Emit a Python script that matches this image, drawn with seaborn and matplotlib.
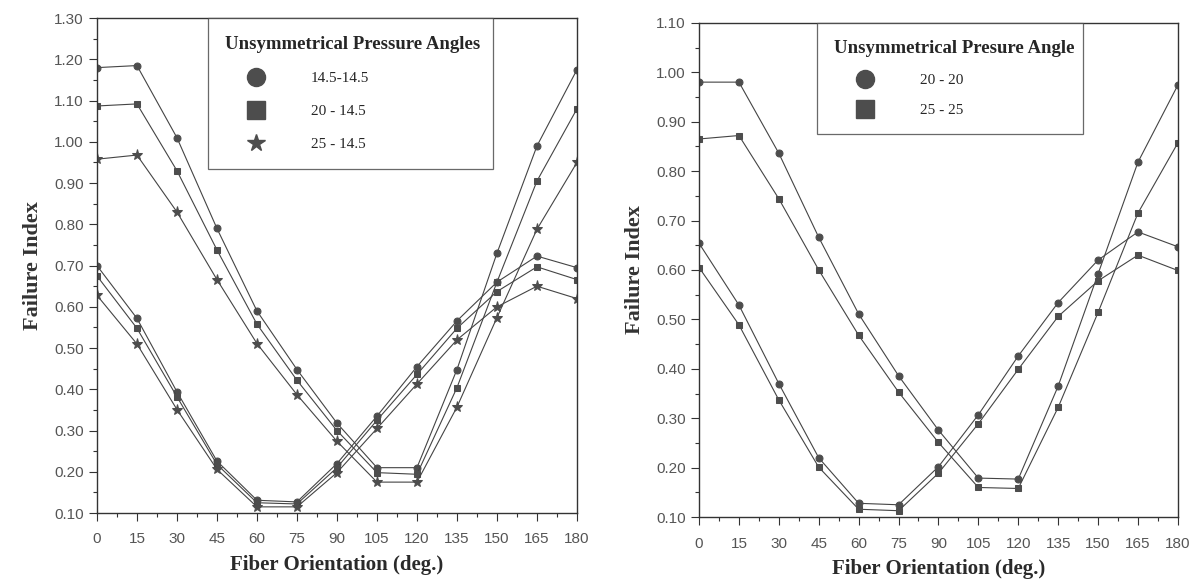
import numpy as np
import pandas as pd
import matplotlib
matplotlib.use("Agg")
import matplotlib.pyplot as plt
from matplotlib.lines import Line2D
from matplotlib.ticker import MultipleLocator, FormatStrFormatter
import seaborn as sns

# fiber orientation (deg.)
angles = [0, 15, 30, 45, 60, 75, 90, 105, 120, 135, 150, 165, 180]

# left panel - unsymmetrical pressure angles, two curves per gear pair
fi_145_145_a = [1.18, 1.185, 1.01, 0.79, 0.59, 0.448, 0.318, 0.21, 0.21, 0.448, 0.73, 0.99, 1.175]
fi_145_145_b = [0.70, 0.572, 0.394, 0.226, 0.131, 0.127, 0.22, 0.335, 0.455, 0.566, 0.66, 0.723, 0.695]
fi_20_145_a = [1.087, 1.092, 0.93, 0.738, 0.558, 0.422, 0.30, 0.198, 0.194, 0.404, 0.66, 0.905, 1.08]
fi_20_145_b = [0.675, 0.548, 0.382, 0.218, 0.125, 0.122, 0.21, 0.325, 0.436, 0.548, 0.637, 0.697, 0.666]
fi_25_145_a = [0.958, 0.968, 0.83, 0.666, 0.511, 0.387, 0.274, 0.175, 0.175, 0.357, 0.574, 0.788, 0.95]
fi_25_145_b = [0.628, 0.51, 0.351, 0.206, 0.115, 0.115, 0.198, 0.305, 0.413, 0.52, 0.60, 0.65, 0.62]

# right panel - symmetrical pairs
fi_20_20_a = [0.98, 0.98, 0.836, 0.666, 0.511, 0.386, 0.276, 0.179, 0.177, 0.365, 0.592, 0.818, 0.974]
fi_20_20_b = [0.654, 0.529, 0.37, 0.22, 0.128, 0.125, 0.202, 0.307, 0.426, 0.534, 0.62, 0.677, 0.647]
fi_25_25_a = [0.865, 0.872, 0.744, 0.60, 0.468, 0.353, 0.251, 0.16, 0.158, 0.322, 0.514, 0.715, 0.857]
fi_25_25_b = [0.605, 0.489, 0.337, 0.201, 0.116, 0.113, 0.189, 0.289, 0.399, 0.506, 0.578, 0.63, 0.599]

left_labels = ["14.5-14.5", "20 - 14.5", "25 - 14.5"]
right_labels = ["20 - 20", "25 - 25"]

sns.set_theme(style="ticks")
plt.rcParams["font.family"] = ["Liberation Sans", "DejaVu Sans"]

LINE_C = "#444444"
MARK_C = "#4d4d4d"
markers = {"o": 5, "s": 5, "*": 8}


def to_frame(series):
    """Long-form table: one row per angle, per series, per branch."""
    rows = []
    for label, branch, vals in series:
        for a, v in zip(angles, vals):
            rows.append({"angle": a, "fi": v, "series": label, "branch": branch})
    return pd.DataFrame(rows)


def draw_panel(ax, df, labels, mkrs, ymax, legend_title, leg_box, spacing):
    for label, m in zip(labels, mkrs):
        for branch in ["a", "b"]:
            sub = df[(df.series == label) & (df.branch == branch)]
            sns.lineplot(data=sub, x="angle", y="fi", ax=ax, color=LINE_C,
                         linewidth=0.8, marker=m, markersize=markers[m],
                         markerfacecolor=MARK_C, markeredgecolor=MARK_C,
                         legend=False)

    ax.set_xlim(0, 180)
    ax.set_ylim(0.10, ymax)
    ax.xaxis.set_major_locator(MultipleLocator(15))
    ax.xaxis.set_minor_locator(MultipleLocator(7.5))
    ax.yaxis.set_major_locator(MultipleLocator(0.10))
    ax.yaxis.set_minor_locator(MultipleLocator(0.05))
    ax.yaxis.set_major_formatter(FormatStrFormatter("%.2f"))
    ax.tick_params(which="major", direction="out", length=6, width=0.8,
                   labelsize=11, labelcolor="#555555", color="#333333")
    ax.tick_params(which="minor", direction="out", length=3, width=0.8, color="#333333")
    ax.tick_params(axis="x", pad=8)
    for s in ax.spines.values():
        s.set_visible(True)
        s.set_linewidth(1.0)
        s.set_color("#333333")

    ax.set_xlabel("Fiber Orientation (deg.)", family="Liberation Serif",
                  fontsize=15, fontweight="bold", color="#2a2a2a", labelpad=6)
    ax.set_ylabel("Failure Index", family="Liberation Serif", fontsize=16,
                  fontweight="bold", color="#333333", labelpad=8)

    handles = [Line2D([], [], linestyle="none", marker=m, color=MARK_C,
                      markersize=13)
               for m in mkrs]
    leg = ax.legend(handles, labels, title=legend_title, loc="upper left",
                    bbox_to_anchor=leg_box, mode="expand", frameon=True,
                    fancybox=False,
                    prop={"family": "Liberation Serif", "size": 11},
                    handletextpad=1.6, labelspacing=spacing, borderpad=1.15,
                    handlelength=4.0, borderaxespad=0.0)
    leg.get_frame().set_edgecolor("#444444")
    leg.get_frame().set_linewidth(0.9)
    leg.get_title().set_fontfamily("Liberation Serif")
    leg.get_title().set_fontweight("bold")
    leg.get_title().set_fontsize(13.5)
    leg._legend_box.align = "left"


fig = plt.figure(figsize=(11.97, 5.85), dpi=100)
ax1 = fig.add_axes([0.081, 0.123, 0.401, 0.846])
ax2 = fig.add_axes([0.584, 0.116, 0.400, 0.845])

left_df = to_frame([
    (left_labels[0], "a", fi_145_145_a), (left_labels[0], "b", fi_145_145_b),
    (left_labels[1], "a", fi_20_145_a), (left_labels[1], "b", fi_20_145_b),
    (left_labels[2], "a", fi_25_145_a), (left_labels[2], "b", fi_25_145_b),
])
right_df = to_frame([
    (right_labels[0], "a", fi_20_20_a), (right_labels[0], "b", fi_20_20_b),
    (right_labels[1], "a", fi_25_25_a), (right_labels[1], "b", fi_25_25_b),
])

draw_panel(ax1, left_df, left_labels, ["o", "s", "*"], 1.30,
           "Unsymmetrical Pressure Angles", (0.231, 0.0, 0.594, 1.0), 1.25)
draw_panel(ax2, right_df, right_labels, ["o", "s"], 1.10,
           "Unsymmetrical Presure Angle", (0.246, 0.0, 0.555, 1.0), 1.05)

fig.savefig("out.png", dpi=100, facecolor="white")
